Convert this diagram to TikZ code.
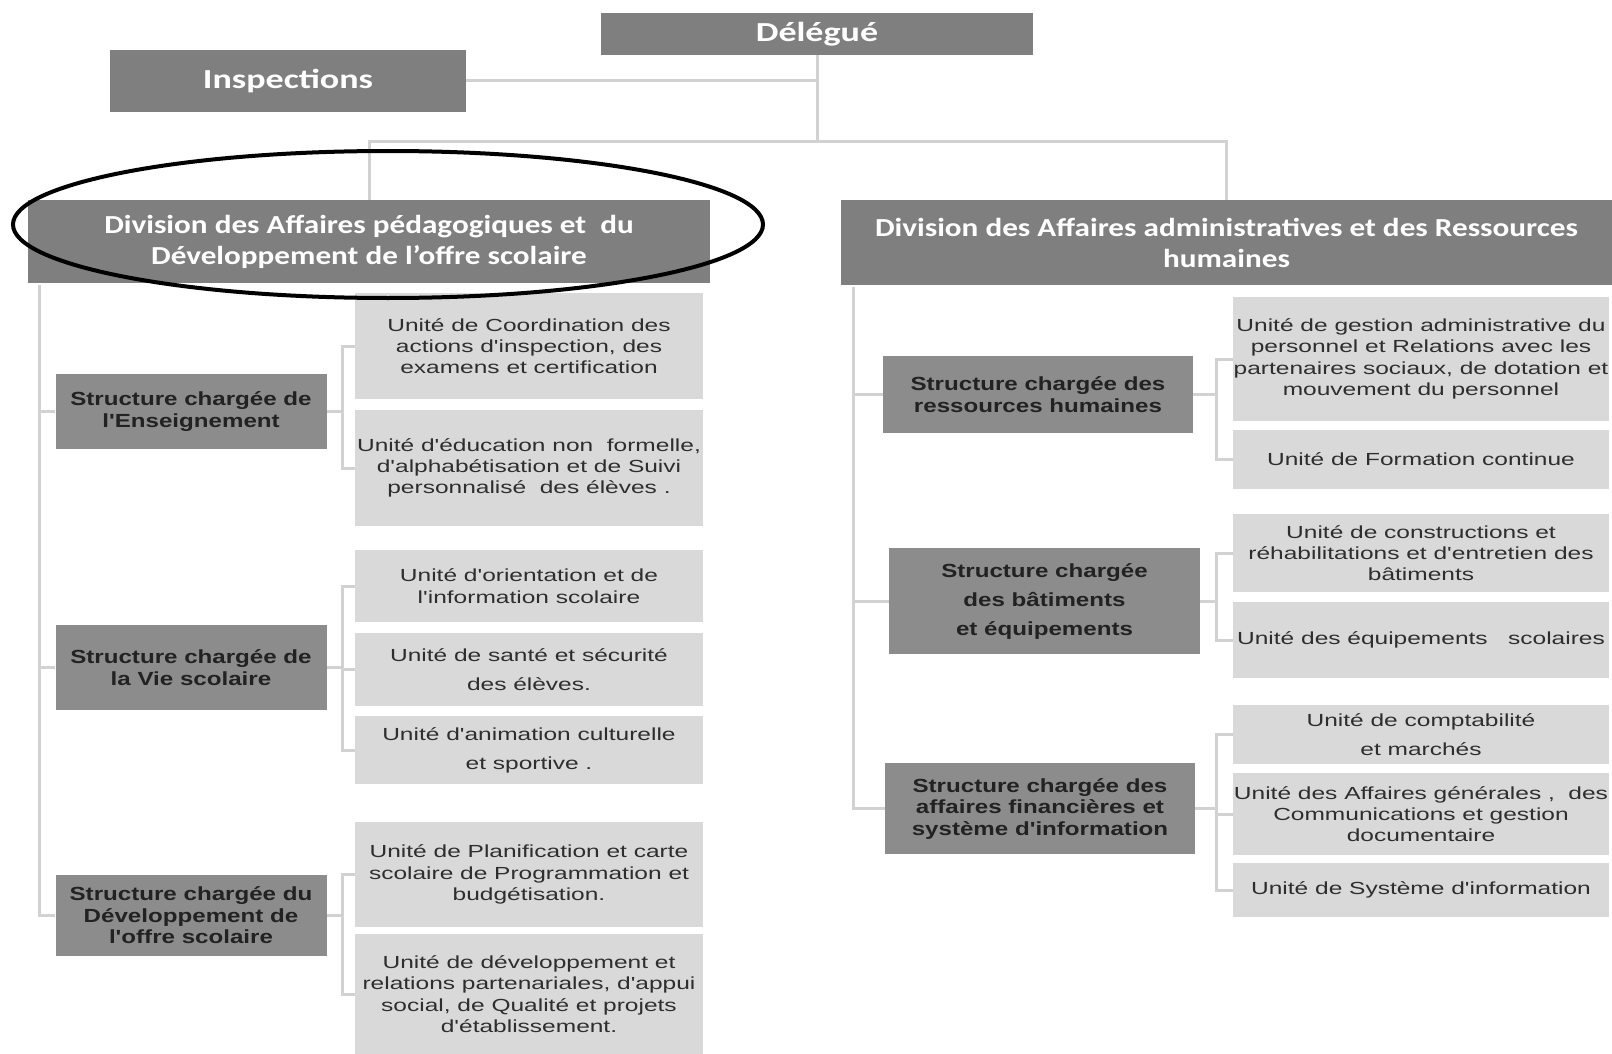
\documentclass[tikz,border=0pt]{standalone}
\usepackage{fontspec}
\newfontfamily\hdfont[FakeStretch=1.31]{Carlito}
\newfontfamily\dvfont[FakeStretch=1.2]{Carlito}
\newfontfamily\stfont[FakeStretch=1.27]{Liberation Sans}
\newfontfamily\unfont[FakeStretch=1.4]{Liberation Sans}
\definecolor{hdgray}{HTML}{7F7F7F}
\definecolor{stgray}{HTML}{8C8C8C}
\definecolor{ungray}{HTML}{D9D9D9}
\definecolor{lngray}{HTML}{D2D2D2}
\definecolor{sttext}{HTML}{222222}
\definecolor{untext}{HTML}{2E2E2E}
\begin{document}
\begin{tikzpicture}[x=1pt,y=-1pt,
  sz/.style 2 args={minimum width=#1, minimum height=#2},
  hdbox/.style={fill=hdgray, text=white, inner sep=0pt, align=center,
    font=\hdfont\bfseries\fontsize{27.5}{31}\selectfont},
  dvbox/.style={hdbox, font=\dvfont\bfseries\fontsize{26}{31}\selectfont},
  stbox/.style={fill=stgray, text=sttext, inner sep=0pt, align=center,
    font=\stfont\bfseries\fontsize{19}{21.5}\selectfont},
  stwide/.style={font=\stfont\bfseries\fontsize{19}{29}\selectfont},
  unbox/.style={fill=ungray, text=untext, inner sep=0pt, align=center,
    font=\unfont\fontsize{17.5}{21.3}\selectfont},
  unwide/.style={font=\unfont\fontsize{17.5}{29}\selectfont},
  conn/.style={draw=lngray, line width=3pt},
  ring/.style={draw=black, line width=4pt}]

% page
\fill[white] (0,0) rectangle (1612,1054);
\useasboundingbox (0,0) rectangle (1612,1054);

% top level
\node[hdbox, sz={432}{42}] (del) at (817,34) {Délégué};
\node[hdbox, sz={356}{62}] (insp) at (288,81) {Inspections};
\node[dvbox, sz={682}{83}] (divL) at (369,241.5)
  {Division des Affaires pédagogiques et~~du\\Développement de l’offre scolaire};
\node[dvbox, sz={771}{85}] (divR) at (1226.5,242.5)
  {Division des Affaires administratives et des Ressources\\humaines};

% structures, left division
\node[stbox, sz={271}{75}] (s1) at (191,411.5) {Structure chargée de\\l'Enseignement};
\node[stbox, sz={271}{85}] (s2) at (191,667.5) {Structure chargée de\\la Vie scolaire};
\node[stbox, sz={271}{81}] (s3) at (191,915.5) {Structure chargée du\\Développement de\\l'offre scolaire};

% structures, right division
\node[stbox, sz={310}{77}] (s4) at (1038,394.5) {Structure chargée des\\ressources humaines};
\node[stbox, stwide, sz={311}{106}] (s5) at (1044.5,601) {Structure chargée\\des bâtiments\\et équipements};
\node[stbox, sz={310}{91}] (s6) at (1040,808.5) {Structure chargée des\\affaires financières et\\système d'information};

% units, left division
\node[unbox, sz={348}{106}] (u1) at (529,346)
  {Unité de Coordination des\\actions d'inspection, des\\examens et certification};
\node[unbox, sz={348}{116}] (u2) at (529,468)
  {Unité d'éducation non~~formelle,\\d'alphabétisation et de Suivi\\personnalisé~~des élèves .};
\node[unbox, sz={348}{72}] (u3) at (529,586)
  {Unité d'orientation et de\\l'information scolaire};
\node[unbox, unwide, sz={348}{73}] (u4) at (529,669.5)
  {Unité de santé et sécurité\\des élèves.};
\node[unbox, unwide, sz={348}{68}] (u5) at (529,750)
  {Unité d'animation culturelle\\et sportive .};
\node[unbox, sz={348}{105}] (u6) at (529,874.5)
  {Unité de Planification et carte\\scolaire de Programmation et\\budgétisation.};
\node[unbox, sz={348}{120}] (u7) at (529,994)
  {Unité de développement et\\relations partenariales, d'appui\\social, de Qualité et projets\\d'établissement.};

% units, right division
\node[unbox, sz={376}{124}] (r1) at (1421,359)
  {Unité de gestion administrative du\\personnel et Relations avec les\\partenaires sociaux, de dotation et\\mouvement du personnel};
\node[unbox, sz={376}{59}] (r2) at (1421,459.5) {Unité de Formation continue};
\node[unbox, sz={376}{78}] (r3) at (1421,553)
  {Unité de constructions et\\réhabilitations et d'entretien des\\bâtiments};
\node[unbox, sz={376}{76}] (r4) at (1421,640) {Unité des équipements~~~scolaires};
\node[unbox, unwide, sz={376}{59}] (r5) at (1421,734.5)
  {Unité de comptabilité\\et marchés};
\node[unbox, sz={376}{82}] (r6) at (1421,814)
  {Unité des Affaires générales ,~~des\\Communications et gestion\\documentaire};
\node[unbox, sz={376}{54}] (r7) at (1421,890) {Unité de Système d'information};

% connectors from the delegate
\coordinate (j0) at (817,142);
\draw[conn] (del.south) -- (j0);
\draw[conn] (insp.east) -- (insp.east -| j0);
\draw[conn] (divL.north) |- (j0) -| (divR.north);

% spines under each division
\coordinate (lsp) at (39,285);
\draw[conn] (lsp) |- (s3.west);
\draw[conn] (lsp |- s1.west) -- (s1.west);
\draw[conn] (lsp |- s2.west) -- (s2.west);
\coordinate (rsp) at (853,287);
\draw[conn] (rsp) |- (s6.west);
\draw[conn] (rsp |- s4.west) -- (s4.west);
\draw[conn] (rsp |- s5.west) -- (s5.west);

% brackets from structures to units
\coordinate (bxL) at (342,0);
\coordinate (bxR) at (1216,0);
\draw[conn] (s1.east) -- (s1.east -| bxL);
\draw[conn] (u1.west) -- (u1.west -| bxL) -- (u2.west -| bxL) -- (u2.west);
\draw[conn] (s2.east) -- (s2.east -| bxL);
\draw[conn] (u3.west) -- (u3.west -| bxL) -- (u5.west -| bxL) -- (u5.west);
\draw[conn] (u4.west) -- (u4.west -| bxL);
\draw[conn] (s3.east) -- (s3.east -| bxL);
\draw[conn] (u6.west) -- (u6.west -| bxL) -- (u7.west -| bxL) -- (u7.west);
\draw[conn] (s4.east) -- (s4.east -| bxR);
\draw[conn] (r1.west) -- (r1.west -| bxR) -- (r2.west -| bxR) -- (r2.west);
\draw[conn] (s5.east) -- (s5.east -| bxR);
\draw[conn] (r3.west) -- (r3.west -| bxR) -- (r4.west -| bxR) -- (r4.west);
\draw[conn] (s6.east) -- (s6.east -| bxR);
\draw[conn] (r5.west) -- (r5.west -| bxR) -- (r7.west -| bxR) -- (r7.west);
\draw[conn] (r6.west) -- (r6.west -| bxR);

% highlight ring round the pedagogical division
\draw[ring] (388,224.5) ellipse [x radius=375, y radius=73.5];
\end{tikzpicture}
\end{document}
